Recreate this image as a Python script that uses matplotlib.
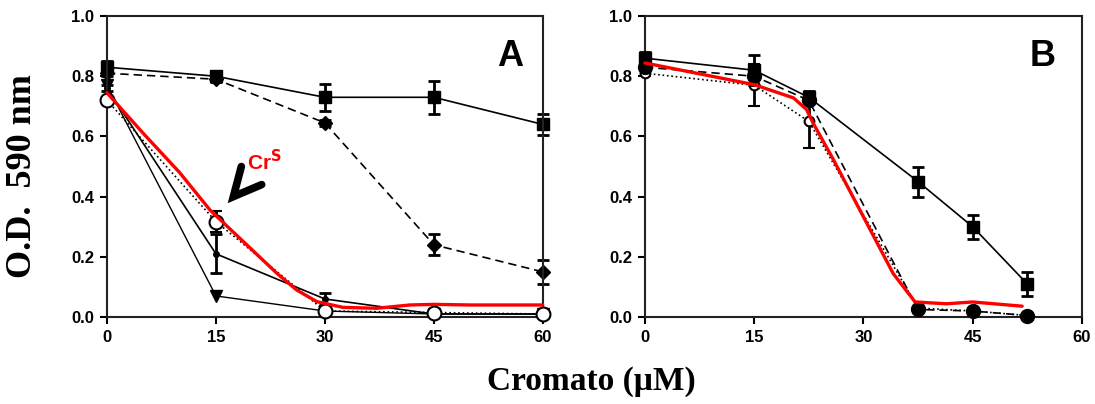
import matplotlib
matplotlib.use('Agg')
import matplotlib.pyplot as plt

# panel A: cromato concentrations (uM)
xa = [0, 15, 30, 45, 60]
a_sq = [0.83, 0.80, 0.73, 0.73, 0.64]
a_sq_err = [0.02, 0.01, 0.045, 0.055, 0.035]
a_di = [0.81, 0.79, 0.645, 0.24, 0.15]
a_di_err = [0.01, 0.01, 0.01, 0.035, 0.04]
a_ci = [0.76, 0.21, 0.06, 0.01, 0.01]
a_ci_err = [0.01, 0.065, 0.02, 0.0, 0.0]
a_tr = [0.77, 0.07, 0.02, 0.01, 0.01]
a_op = [0.72, 0.317, 0.02, 0.015, 0.01]
a_op_err = [0.0, 0.035, 0.0, 0.0, 0.0]
# red hand-drawn curve (Cr^S)
a_red_x = [0, 5, 10, 14.2, 18.8, 23.4, 26.1, 28.9, 32.5, 37.1, 41.7, 45, 50, 55, 60]
a_red_y = [0.745, 0.61, 0.48, 0.355, 0.25, 0.145, 0.09, 0.051, 0.032, 0.029, 0.04, 0.042,
           0.04, 0.04, 0.04]

# panel B
xb = [0, 15, 22.5, 37.5, 45, 52.5]
b_sq = [0.86, 0.82, 0.73, 0.45, 0.30, 0.11]
b_sq_err = [0.02, 0.05, 0.02, 0.05, 0.04, 0.04]
b_ci = [0.83, 0.80, 0.72, 0.025, 0.02, 0.005]
b_op = [0.81, 0.77, 0.65, 0.03, 0.02, 0.005]
b_op_err = [0.01, 0.07, 0.09, 0.0, 0.0, 0.0]
b_red_x = [0, 15, 20.4, 22.2, 23.1, 25.9, 30, 34.1, 37.1, 41.4, 45, 51.8]
b_red_y = [0.844, 0.772, 0.728, 0.689, 0.644, 0.522, 0.333, 0.144, 0.05, 0.044, 0.05, 0.036]

fig = plt.figure(figsize=(10.95, 4.04), dpi=100)
axA = fig.add_axes([0.0977, 0.2153, 0.398, 0.745])
axB = fig.add_axes([0.589, 0.2153, 0.399, 0.745])

eb = dict(color='black', lw=1.2, elinewidth=2, capsize=4, capthick=2)

# panel A series
axA.errorbar(xa, a_sq, yerr=a_sq_err, marker='s', ms=9, ls='-', **eb)
axA.errorbar(xa, a_di, yerr=a_di_err, marker='D', ms=7, ls='--', dashes=(5, 3), **eb)
axA.errorbar(xa, a_ci, yerr=a_ci_err, marker='o', ms=4, ls='-', **eb)
axA.plot(xa, a_tr, marker='v', ms=8, ls='-', color='black', lw=1.0)
axA.errorbar(xa, a_op, yerr=a_op_err, marker='o', ms=10, mfc='white', mec='black', mew=1.5,
             ls=':', zorder=4, **eb)
axA.plot(a_red_x, a_red_y, color='#ff0000', lw=2.4, solid_capstyle='round', zorder=6)

# Cr^S annotation with black chevron arrow
axA.plot([18.5, 17.4, 21.3], [0.50, 0.40, 0.44], color='black', lw=5.5,
         solid_capstyle='round', solid_joinstyle='miter')
axA.text(21.7, 0.515, 'Cr$^{\\mathbf{S}}$', color='#ff0000', fontsize=15, fontweight='bold',
         family='Liberation Sans', ha='center', va='center')

# panel B series
axB.errorbar(xb, b_op, yerr=b_op_err, marker='o', ms=7, mfc='white', mec='black', mew=1.5,
             ls=':', zorder=3, **eb)
axB.plot(xb, b_ci, marker='o', ms=10, ls='--', dashes=(5, 3), color='black', lw=1.2, zorder=4)
axB.errorbar(xb, b_sq, yerr=b_sq_err, marker='s', ms=9, ls='-', zorder=5, **eb)
axB.plot(b_red_x, b_red_y, color='#ff0000', lw=2.4, solid_capstyle='round', zorder=6)

for ax, letter, lx in [(axA, 'A', 0.924), (axB, 'B', 0.911)]:
    ax.set_xlim(0, 60)
    ax.set_ylim(0, 1.0)
    ax.set_xticks([0, 15, 30, 45, 60])
    ax.set_yticks([0.0, 0.2, 0.4, 0.6, 0.8, 1.0])
    ax.set_yticklabels(['0.0', '0.2', '0.4', '0.6', '0.8', '1.0'])
    ax.tick_params(axis='both', labelsize=12, width=1.5, length=5, direction='out',
                   colors='black', pad=4)
    for lab in ax.get_xticklabels() + ax.get_yticklabels():
        lab.set_fontweight('bold')
        lab.set_family('Liberation Sans')
    for s in ax.spines.values():
        s.set_linewidth(1.5)
        s.set_color('#222222')
    for c in ax.lines:
        c.set_clip_on(False)
    ax.text(lx, 0.867, letter, transform=ax.transAxes, fontsize=26, fontweight='bold',
            family='Liberation Sans', ha='center', va='center')

fig.text(0.021, 0.565, 'O.D.  590 nm', rotation=90, ha='center', va='center',
         fontsize=26, fontweight='bold', family='Liberation Serif')
fig.text(0.54, 0.055, 'Cromato (\u03bcM)', ha='center', va='center',
         fontsize=24, fontweight='bold', family='Liberation Serif')

fig.savefig('out.png', dpi=100)
